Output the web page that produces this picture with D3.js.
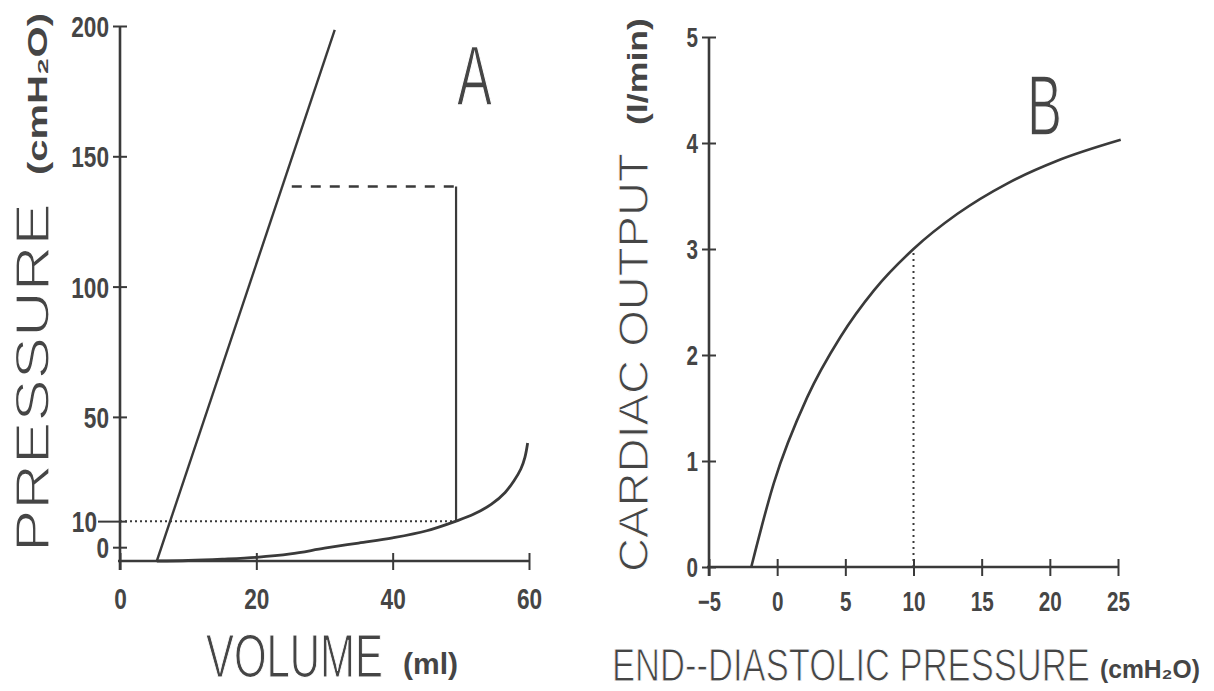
<!DOCTYPE html>
<html><head><meta charset="utf-8">
<script src="https://cdn.jsdelivr.net/npm/d3@7"></script>
<style>body{margin:0;background:#fff}</style>
</head><body>
<svg id="c" width="1214" height="691"></svg>
<script>
// ---------- Panel A : pressure-volume ----------
const aXTicks = [0, 20, 40, 60];
const aYTicks = [0, 10, 50, 100, 150, 200];
const esprVolume   = [5.4, 31.5];
const esprPressure = [-5.3, 198.5];
const edpvrVolume   = [5.4, 10, 15, 20, 25, 30, 35, 40, 45, 49.3, 52, 54.5, 56.5, 57.8, 58.8, 59.4, 59.8];
const edpvrPressure = [-5.3, -5.1, -4.6, -3.9, -2.6, -0.4, 1.6, 3.6, 6.3, 10, 12.8, 16.5, 21, 25.5, 30, 34.5, 40];
const dashedVolume   = [25.2, 49.3];
const dashedPressure = [138.4, 138.4];
const ejectVolume    = [49.3, 49.3];
const ejectPressure  = [138.4, 10];
const dottedVolume   = [0, 49.3];
const dottedPressure = [10, 10];

// ---------- Panel B : Starling curve ----------
const bXTicks = [-5, 0, 5, 10, 15, 20, 25];
const bYTicks = [0, 1, 2, 3, 4, 5];
const starlingEDP = [-1.9, -0.25, 2.2, 4.64, 7.1, 10, 13.2, 16.9, 20.5, 25.2];
const starlingCO  = [0, 0.79, 1.6, 2.17, 2.61, 3.0, 3.33, 3.62, 3.83, 4.03];
const refEDP = [10, 10];
const refCO  = [0, 3.0];

const INK = "#3a3a3a", TXT = "#454545";
const FONT = "'Liberation Sans', Arial, sans-serif";
const svg = d3.select("#c");

function zip(xs, ys){ return xs.map((x,i)=>[x, ys[i]]); }

function squeeze(sel, pad, cw, vertical){
  sel.each(function(){
    const t = d3.select(this);
    const nat = this.getComputedTextLength();
    const s = (this.textContent.length * cw) / nat;
    t.attr("x", 0).attr("y", 0);
    if (vertical) t.attr("transform", `translate(${-pad},0) scale(${s},1)`);
    else t.attr("transform", `translate(0,${pad}) scale(${s},1)`);
  });
}

function drawAxes(g, x, y, xTicks, yTicks, opt){
  const [x0] = x.range(), [yb] = y.range();
  g.append("line").attr("x1", x0).attr("x2", x0).attr("y1", y.range()[1]).attr("y2", yb + 9)
    .attr("stroke", INK).attr("stroke-width", 2.6);
  g.append("line").attr("x1", x0 - 2).attr("x2", x.range()[1]).attr("y1", yb).attr("y2", yb)
    .attr("stroke", INK).attr("stroke-width", 2.6);

  const ya = g.append("g").attr("transform", `translate(${x0},0)`)
    .call(d3.axisLeft(y).tickValues(yTicks).tickSize(0).tickPadding(0).tickFormat(d3.format("d")));
  ya.select(".domain").remove();
  ya.selectAll(".tick").append("line").attr("x1", d => d === opt.longTick ? -22 : -7).attr("x2", 7)
    .attr("stroke", INK).attr("stroke-width", 2);
  const yt = ya.selectAll(".tick text")
    .attr("dy", "0.36em").attr("text-anchor", "end")
    .style("font-family", FONT).style("font-weight", "bold")
    .style("font-size", opt.fs + "px").attr("fill", TXT);
  yt.each(function(d){
    const nat = this.getComputedTextLength();
    const s = (this.textContent.length * opt.cw) / nat;
    const pad = d === opt.longTick ? 23 : opt.yPad;
    d3.select(this).attr("x", 0).attr("transform", `translate(${-pad},0) scale(${s},1)`);
  });

  const xa = g.append("g").attr("transform", `translate(0,${yb})`)
    .call(d3.axisBottom(x).tickValues(xTicks).tickSize(0).tickPadding(0)
      .tickFormat(d => d < 0 ? "\u2212" + Math.abs(d) : String(d)));
  xa.select(".domain").remove();
  xa.selectAll(".tick").append("line").attr("y1", -8).attr("y2", 9)
    .attr("stroke", INK).attr("stroke-width", 2);
  const xt = xa.selectAll(".tick text").attr("dy", "0.36em").attr("text-anchor", "middle")
    .style("font-family", FONT).style("font-weight", "bold")
    .style("font-size", opt.fs + "px").attr("fill", TXT);
  xt.each(function(){
    const nat = this.getComputedTextLength();
    const s = (this.textContent.length * opt.cw) / nat;
    d3.select(this).attr("y", 0).attr("transform", `translate(0,${opt.xLabY}) scale(${s},1)`);
  });
}

function label(txt, x, y, size, len, bold, rot, thin){
  const t = svg.append("text")
    .attr("text-anchor", "start")
    .style("font-family", FONT)
    .style("font-weight", bold ? "bold" : "normal")
    .style("font-size", size + "px").attr("fill", TXT)
    .text(txt);
  if (thin) t.attr("stroke", "#fff").attr("stroke-width", thin);
  const nat = t.node().getComputedTextLength();
  const s = len / nat;
  t.attr("transform", `translate(${x},${y})` + (rot ? " rotate(-90)" : "") + ` scale(${s},1)`);
  return t;
}

// ---------- Panel A ----------
const xA = d3.scaleLinear().domain([0, 60]).range([120, 529]);
const yA = d3.scaleLinear().domain([-5.3, 200]).range([561, 26]);
const gA = svg.append("g");
drawAxes(gA, xA, yA, aXTicks, aYTicks, {yPad: 11, fs: 29, cw: 12.6, xLabY: 38, longTick: 10});

const lineA = d3.line().x(d => xA(d[0])).y(d => yA(d[1]));
gA.append("path").attr("d", lineA(zip(dottedVolume, dottedPressure)))
  .attr("fill", "none").attr("stroke", INK).attr("stroke-width", 2).attr("stroke-dasharray", "2,3");
gA.append("path").attr("d", lineA(zip(esprVolume, esprPressure)))
  .attr("fill", "none").attr("stroke", INK).attr("stroke-width", 2.4);
gA.append("path").attr("d", lineA(zip(dashedVolume, dashedPressure)))
  .attr("fill", "none").attr("stroke", INK).attr("stroke-width", 2.4).attr("stroke-dasharray", "10,9");
gA.append("path").attr("d", lineA(zip(ejectVolume, ejectPressure)))
  .attr("fill", "none").attr("stroke", INK).attr("stroke-width", 2.2);
gA.append("path").attr("d", d3.line().x(d => xA(d[0])).y(d => yA(d[1])).curve(d3.curveCatmullRom.alpha(0.5))(zip(edpvrVolume, edpvrPressure)))
  .attr("fill", "none").attr("stroke", INK).attr("stroke-width", 2.8);

// ---------- Panel B ----------
const xB = d3.scaleLinear().domain([-5, 25]).range([709, 1118]);
const yB = d3.scaleLinear().domain([0, 5]).range([567, 37]);
const gB = svg.append("g");
drawAxes(gB, xB, yB, bXTicks, bYTicks, {yPad: 11, fs: 27, cw: 11.5, xLabY: 34});

const lineB = d3.line().x(d => xB(d[0])).y(d => yB(d[1]));
gB.append("path").attr("d", lineB(zip(refEDP, refCO)))
  .attr("fill", "none").attr("stroke", INK).attr("stroke-width", 2).attr("stroke-dasharray", "2,4");
gB.append("path").attr("d", lineB.curve(d3.curveMonotoneX)(zip(starlingEDP, starlingCO)))
  .attr("fill", "none").attr("stroke", INK).attr("stroke-width", 2.6);

// ---------- Text ----------
label("PRESSURE", 49, 552, 49, 349, false, true, 1.2);
label("(cmH\u2082O)", 47, 175, 28, 162, true, true);
label("VOLUME", 206, 677, 62, 177, false, false, 1.2);
label("(ml)", 403, 674, 30, 55, true, false);
label("A", 457, 105, 86, 35, false, false, 1.6);

label("CARDIAC OUTPUT", 648, 572, 42, 419, false, true, 1.0);
label("(l/min)", 647, 125, 27, 107, true, true);
label("END--DIASTOLIC PRESSURE", 612, 681, 47, 478, false, false, 1.0);
label("(cmH\u2082O)", 1100, 678, 25, 100, true, false);
label("B", 1027, 135, 86, 35, false, false, 1.6);
</script>
</body></html>
